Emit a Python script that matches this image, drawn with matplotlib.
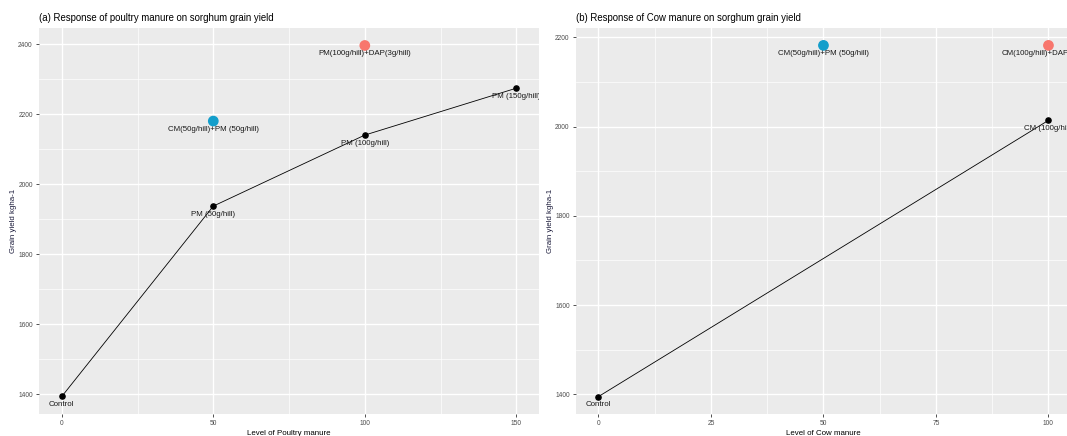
import matplotlib
matplotlib.use("Agg")
import matplotlib.pyplot as plt
from matplotlib.ticker import MultipleLocator

plt.rcParams['font.family'] = ['Liberation Sans', 'DejaVu Sans']

# panel (a): poultry manure
pm_level = [0, 50, 100, 150]
pm_yield = [1394, 1938, 2141, 2275]
pm_labels = ["Control", "PM (50g/hill)", "PM (100g/hill)", "PM (150g/hill)"]
pm_extra_x = [50, 100]
pm_extra_y = [2181, 2397]
pm_extra_labels = ["CM(50g/hill)+PM (50g/hill)", "PM(100g/hill)+DAP(3g/hill)"]

# panel (b): cow manure
cm_level = [0, 100]
cm_yield = [1395, 2014]
cm_labels = ["Control", "CM (100g/hill)"]
cm_extra_x = [50, 100]
cm_extra_y = [2182, 2182]
cm_extra_labels = ["CM(50g/hill)+PM (50g/hill)", "CM(100g/hill)+DAP(3g/hill)"]

extra_colors = ["#139ECB", "#F8766D"]

fig = plt.figure(figsize=(10.67, 4.36), dpi=100)
ax1 = fig.add_axes([0.0366, 0.0505, 0.4686, 0.8853])
ax2 = fig.add_axes([0.5398, 0.0505, 0.4639, 0.8853])


def style(ax, xmaj, xmin, ymaj, ymin):
    ax.set_facecolor("#EBEBEB")
    for s in ax.spines.values():
        s.set_visible(False)
    ax.xaxis.set_major_locator(MultipleLocator(xmaj))
    ax.xaxis.set_minor_locator(MultipleLocator(xmin))
    ax.yaxis.set_major_locator(MultipleLocator(ymaj))
    ax.yaxis.set_minor_locator(MultipleLocator(ymin))
    ax.grid(which="major", color="white", lw=1.0)
    ax.grid(which="minor", color="white", lw=0.5)
    ax.set_axisbelow(True)
    ax.tick_params(which="major", length=2.5, color="#333333", labelsize=4.8,
                   labelcolor="#4D4D4D", pad=2, width=0.6)
    ax.tick_params(which="minor", length=0)


def draw(ax, x, y, labels, ex, ey, elabels):
    ax.plot(x, y, color="black", lw=0.6, zorder=3)
    ax.scatter(x, y, s=14, color="black", zorder=4)
    ax.scatter(ex, ey, s=45, c=extra_colors, zorder=4)
    for xi, yi, t in zip(list(x) + list(ex), list(y) + list(ey), list(labels) + list(elabels)):
        ax.annotate(t, (xi, yi), xytext=(0, -8), textcoords="offset pixels",
                    ha="center", va="center", fontsize=5.7, color="#1a1a1a",
                    annotation_clip=True, clip_on=True, zorder=5)


style(ax1, 50, 25, 200, 100)
draw(ax1, pm_level, pm_yield, pm_labels, pm_extra_x, pm_extra_y, pm_extra_labels)
ax1.set_xlim(-7.5, 157.5)
ax1.set_ylim(1344, 2447)
ax1.set_xlabel("Level of Poultry manure", fontsize=5.7, labelpad=2)
ax1.set_ylabel("Grain yield kgha-1", fontsize=5.7, labelpad=1, color="#1a1a3a")
ax1.set_title("(a) Response of poultry manure on sorghum grain yield", fontsize=6.9,
              loc="left", pad=5)

style(ax2, 25, 12.5, 200, 100)
draw(ax2, cm_level, cm_yield, cm_labels, cm_extra_x, cm_extra_y, cm_extra_labels)
ax2.set_xlim(-5, 105)
ax2.set_ylim(1356, 2221)
ax2.set_xlabel("Level of Cow manure", fontsize=5.7, labelpad=2)
ax2.set_ylabel("Grain yield kgha-1", fontsize=5.7, labelpad=1, color="#1a1a3a")
ax2.set_title("(b) Response of Cow manure on sorghum grain yield", fontsize=6.9,
              loc="left", pad=5)

fig.savefig("out.png", dpi=100)
